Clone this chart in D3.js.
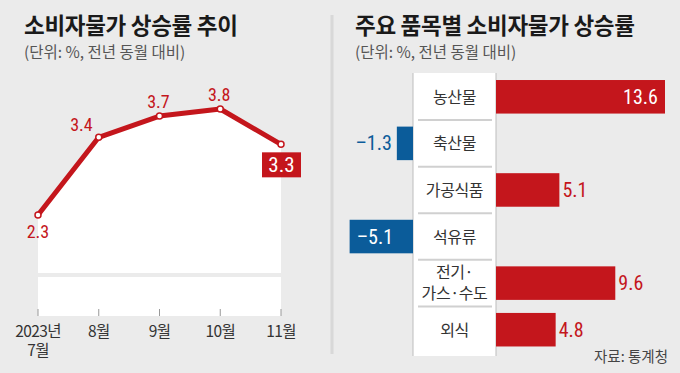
<!DOCTYPE html>
<html>
<head>
<meta charset="utf-8">
<script src="https://cdn.jsdelivr.net/npm/d3@7"></script>
<style>
  body { margin: 0; background: #ebebeb; }
  svg { display: block; font-family: "Noto Sans CJK KR", "Noto Sans", sans-serif; }
  .num { font-family: "Liberation Sans Narrow", "Roboto Condensed", Roboto, sans-serif; }
</style>
</head>
<body>
<div id="chart"></div>
<script>
// left: monthly CPI growth
const months = ['2023년|7월', '8월', '9월', '10월', '11월'];
const cpi = [2.3, 3.4, 3.7, 3.8, 3.3];

// right: growth by item
const items = ['농산물', '축산물', '가공식품', '석유류', '전기·|가스·수도', '외식'];
const itemRates = [13.6, -1.3, 5.1, -5.1, 9.6, 4.8];

const RED = '#c4161c', BLUE = '#0b5c9a';

const width = 680, height = 373;
const svg = d3.select('#chart').append('svg')
  .attr('width', width)
  .attr('height', height);

svg.append('rect').attr('width', width).attr('height', height).attr('fill', '#ebebeb');

// titles
function title(x, main) {
  svg.append('text').attr('x', x).attr('y', 34)
    .attr('font-size', 22.5).attr('font-weight', 700).attr('fill', '#1a1a1a')
    .attr('letter-spacing', -0.3)
    .text(main);
  svg.append('text').attr('x', x).attr('y', 58)
    .attr('font-size', 15.5).attr('fill', '#555')
    .text('(단위: %, 전년 동월 대비)');
}
title(24, '소비자물가 상승률 추이');
title(355, '주요 품목별 소비자물가 상승률');

// divider
svg.append('line')
  .attr('x1', 332).attr('x2', 332).attr('y1', 15).attr('y2', 354)
  .attr('stroke', '#d8d8d8').attr('stroke-width', 3);

// ---- line chart ----
const data = months.map((m, i) => ({ month: m, value: cpi[i] }));
const x = d3.scalePoint().domain(months).range([38, 281]);
const y = d3.scaleLinear().domain([2.3, 3.8]).range([215, 109]);
const plotBottom = 316;

const area = d3.area()
  .x(d => x(d.month))
  .y0(plotBottom)
  .y1(d => y(d.value));

svg.append('path').datum(data).attr('d', area).attr('fill', '#fff');

// axis break band
svg.append('rect')
  .attr('x', x.range()[0] - 2).attr('y', 273)
  .attr('width', x.range()[1] - x.range()[0] + 4).attr('height', 4)
  .attr('fill', '#ebebeb');

// ticks + labels
const xAxis = svg.append('g');
xAxis.selectAll('line').data(months).join('line')
  .attr('x1', d => x(d)).attr('x2', d => x(d))
  .attr('y1', 309).attr('y2', plotBottom)
  .attr('stroke', '#999').attr('stroke-width', 1);
xAxis.selectAll('text').data(months).join('text')
  .attr('x', d => x(d)).attr('y', 337)
  .attr('text-anchor', 'middle')
  .attr('font-size', 15.5).attr('fill', '#333').attr('letter-spacing', -0.6)
  .each(function (d) {
    d.split('|').forEach((s, i) => {
      d3.select(this).append('tspan')
        .attr('x', x(d)).attr('dy', i ? 19 : 0).text(s);
    });
  });

const line = d3.line().x(d => x(d.month)).y(d => y(d.value));
svg.append('path').datum(data).attr('d', line)
  .attr('fill', 'none').attr('stroke', RED)
  .attr('stroke-width', 5).attr('stroke-linejoin', 'round');

svg.selectAll('circle.pt').data(data).join('circle')
  .attr('class', 'pt')
  .attr('cx', d => x(d.month)).attr('cy', d => y(d.value))
  .attr('r', 3).attr('fill', '#fff').attr('stroke', RED).attr('stroke-width', 1.5);

const last = data.length - 1;
data.forEach((d, i) => {
  const px = x(d.month), py = y(d.value);
  if (i === last) {
    svg.append('rect')
      .attr('x', px - 19).attr('y', py + 8).attr('width', 39).attr('height', 25)
      .attr('fill', RED);
    svg.append('text').attr('class', 'num')
      .attr('x', px + 0.5).attr('y', py + 28)
      .attr('text-anchor', 'middle').attr('font-size', 21).attr('fill', '#fff')
      .text(d.value.toFixed(1));
    return;
  }
  const t = svg.append('text').attr('class', 'num')
    .attr('font-size', 18).attr('fill', RED)
    .text(d.value.toFixed(1));
  if (i === 0) t.attr('x', px).attr('y', py + 23).attr('text-anchor', 'middle');
  else if (i === 1) t.attr('x', px - 6).attr('y', py - 6).attr('text-anchor', 'end');
  else t.attr('x', px - 1).attr('y', py - 8).attr('text-anchor', 'middle');
});

// ---- bar chart ----
const rows = items.map((c, i) => ({ item: c, value: itemRates[i] }));
const yb = d3.scaleBand().domain(items).range([73.5, 353])
  .paddingInner(0.28).paddingOuter(0.14);
const xb = d3.scaleLinear().domain([0, d3.max(itemRates)]).range([0, 169]);
const labLeft = 413, labRight = 496;
const maxPos = d3.max(itemRates), minNeg = d3.min(itemRates);

// label column
svg.append('rect')
  .attr('x', labLeft).attr('y', 73).attr('width', labRight - labLeft).attr('height', 283)
  .attr('fill', '#fff');
[labLeft, labRight].forEach(lx => {
  svg.append('line').attr('x1', lx).attr('x2', lx).attr('y1', 73).attr('y2', 356)
    .attr('stroke', '#bdbdbd').attr('stroke-width', 1);
});
const step = yb.step();
svg.selectAll('line.sep').data(items.slice(1)).join('line')
  .attr('class', 'sep')
  .attr('x1', labLeft + 5).attr('x2', labRight - 4)
  .attr('y1', d => yb(d) - (step - yb.bandwidth()) / 2)
  .attr('y2', d => yb(d) - (step - yb.bandwidth()) / 2)
  .attr('stroke', '#d0d0d0').attr('stroke-width', 2);

svg.selectAll('text.cat').data(items).join('text')
  .attr('class', 'cat')
  .attr('text-anchor', 'middle')
  .attr('font-size', 16).attr('fill', '#333').attr('letter-spacing', -0.4)
  .each(function (d) {
    const parts = d.split('|');
    const cy = yb(d) + yb.bandwidth() / 2;
    parts.forEach((s, i) => {
      d3.select(this).append('tspan')
        .attr('x', (labLeft + labRight) / 2)
        .attr('y', parts.length > 1 ? cy - 5 + i * 21 : cy + 6)
        .text(s);
    });
  });

svg.selectAll('rect.bar').data(rows).join('rect')
  .attr('class', 'bar')
  .attr('x', d => d.value >= 0 ? labRight : labLeft - xb(-d.value))
  .attr('y', d => yb(d.item))
  .attr('width', d => xb(Math.abs(d.value)))
  .attr('height', yb.bandwidth())
  .attr('fill', d => d.value >= 0 ? RED : BLUE);

svg.selectAll('text.val').data(rows).join('text')
  .attr('class', 'val num')
  .attr('font-size', 20)
  .attr('y', d => yb(d.item) + yb.bandwidth() / 2 + 7)
  .each(function (d) {
    const t = d3.select(this);
    const inside = d.value === maxPos || d.value === minNeg;
    const txt = d.value < 0 ? '\u2013' + Math.abs(d.value).toFixed(1) : d.value.toFixed(1);
    t.text(txt);
    if (d.value >= 0) {
      const end = labRight + xb(d.value);
      if (inside) t.attr('x', end - 7).attr('text-anchor', 'end').attr('fill', '#fff');
      else t.attr('x', end + 3).attr('text-anchor', 'start').attr('fill', RED);
    } else {
      const start = labLeft - xb(-d.value);
      if (inside) t.attr('x', start + 7).attr('text-anchor', 'start').attr('fill', '#fff');
      else t.attr('x', start - 5).attr('text-anchor', 'end').attr('fill', BLUE);
    }
  });

svg.append('text')
  .attr('x', 668).attr('y', 362).attr('text-anchor', 'end')
  .attr('font-size', 14.5).attr('fill', '#444')
  .text('자료: 통계청');
</script>
</body>
</html>
